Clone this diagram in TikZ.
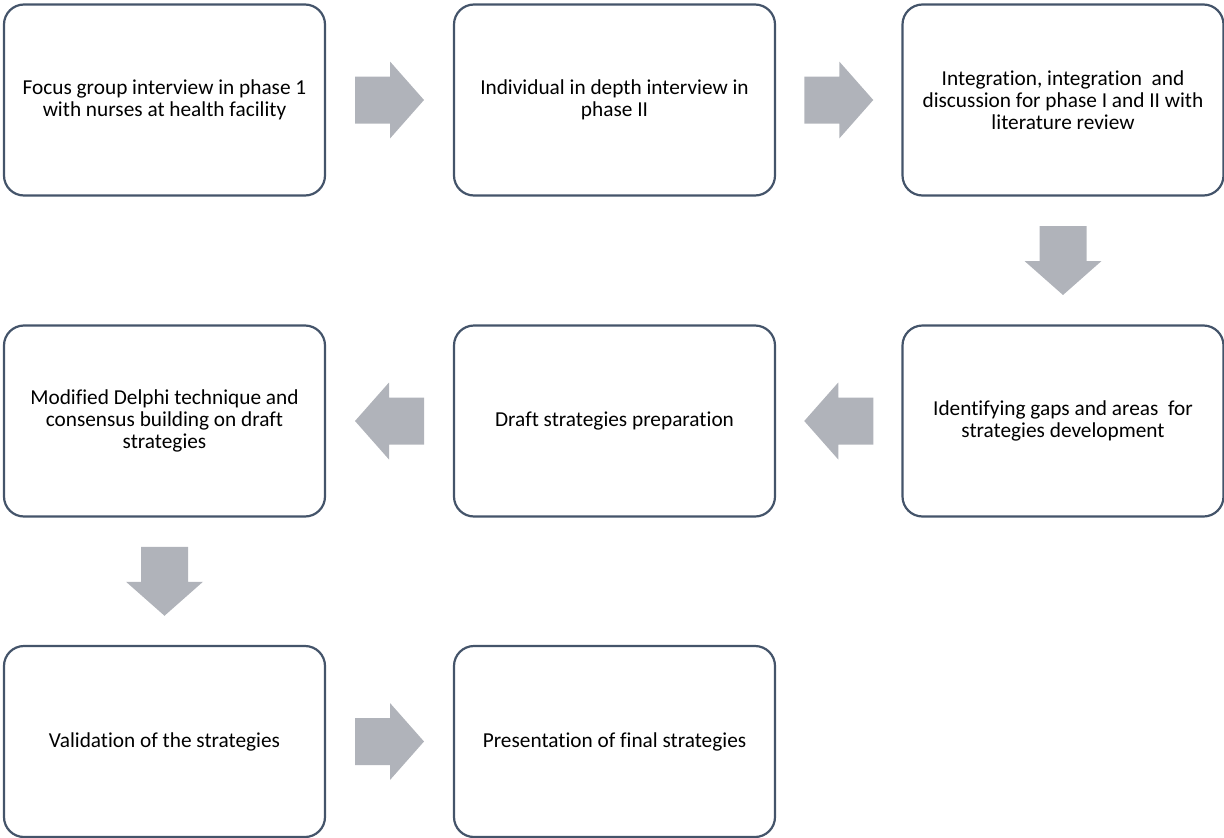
\documentclass[tikz,border=0pt]{standalone}
\usepackage{fontspec}
\setmainfont[Ligatures=NoCommon]{Carlito}
\usetikzlibrary{calc}
\definecolor{boxline}{HTML}{44546A}
\definecolor{arrowgray}{HTML}{B0B3BA}
\begin{document}
\begin{tikzpicture}[x=1pt,y=-1pt,
  stepbox/.style={draw=boxline, line width=2.2pt, rounded corners=20pt, fill=white,
    minimum width=321pt, minimum height=191pt, inner sep=0pt, align=center,
    font=\fontsize{21.3pt}{22pt}\selectfont, text=black},
  blockarrow/.pic={
    \fill[arrowgray] (-34.5,-23.5) -- (0.5,-23.5) -- (0.5,-38.5) -- (34.5,0)
      -- (0.5,38.5) -- (0.5,23.5) -- (-34.5,23.5) -- cycle;
  }]
\useasboundingbox (0,0) rectangle (1224,838);
% row 1
\node[stepbox] (b1) at (164.5,100) {Focus group interview in phase 1\\with nurses at health facility};
\node[stepbox] (b2) at (614.5,100) {Individual in depth interview in\\phase II};
\node[stepbox] (b3) at (1063,100) {Integration, integration\ \ and\\discussion for phase I and II with\\literature review};
% row 2
\node[stepbox] (b4) at (1063,421) {Identifying gaps and areas\ \ for\\strategies development};
\node[stepbox] (b5) at (614.5,421) {Draft strategies preparation};
\node[stepbox] (b6) at (164.5,421) {Modified Delphi technique and\\consensus building on draft\\strategies};
% row 3
\node[stepbox] (b7) at (164.5,741.5) {Validation of the strategies};
\node[stepbox] (b8) at (614.5,741.5) {Presentation of final strategies};
% block arrows between the steps
\coordinate (m12) at ($(b1.east)!0.5!(b2.west)$);
\coordinate (m23) at ($(b2.east)!0.5!(b3.west)$);
\coordinate (m34) at ($(b3.south)!0.5!(b4.north)$);
\coordinate (m45) at ($(b4.west)!0.5!(b5.east)$);
\coordinate (m56) at ($(b5.west)!0.5!(b6.east)$);
\coordinate (m67) at ($(b6.south)!0.5!(b7.north)$);
\coordinate (m78) at ($(b7.east)!0.5!(b8.west)$);
\pic at (m12) {blockarrow};
\pic at (m23) {blockarrow};
\pic[rotate=-90] at (m34) {blockarrow};
\pic[rotate=180] at (m45) {blockarrow};
\pic[rotate=180] at (m56) {blockarrow};
\pic[rotate=-90] at (m67) {blockarrow};
\pic at (m78) {blockarrow};
\end{tikzpicture}
\end{document}
